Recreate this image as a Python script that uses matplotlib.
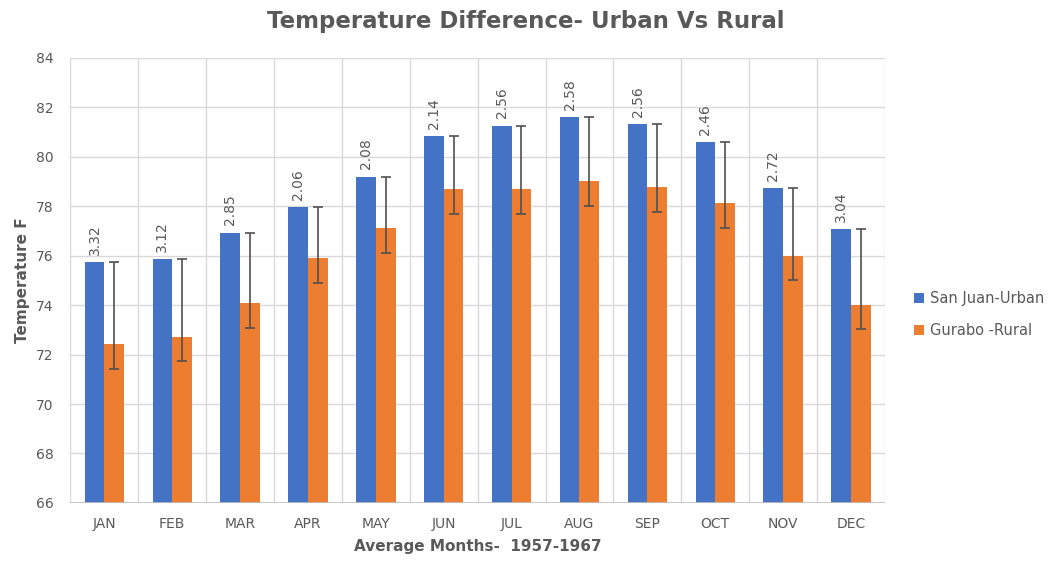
import matplotlib.pyplot as plt
import numpy as np

months = ["JAN", "FEB", "MAR", "APR", "MAY", "JUN", "JUL", "AUG", "SEP", "OCT", "NOV", "DEC"]
urban = [75.74, 75.85, 76.93, 77.97, 79.20, 80.82, 81.25, 81.60, 81.32, 80.58, 78.72, 77.06]
rural = [72.42, 72.73, 74.08, 75.91, 77.12, 78.68, 78.69, 79.02, 78.76, 78.12, 76.00, 74.02]
diff_labels = ["3.32", "3.12", "2.85", "2.06", "2.08", "2.14", "2.56", "2.58", "2.56", "2.46", "2.72", "3.04"]
err_up = [3.32, 3.12, 2.85, 2.06, 2.08, 2.14, 2.56, 2.58, 2.56, 2.46, 2.72, 3.04]
err_down = [1, 1, 1, 1, 1, 1, 1, 1, 1, 1, 1, 1]

blue = "#4472C4"
orange = "#ED7D31"
txt = "#595959"

fig = plt.figure(figsize=(10.51, 5.67), dpi=100)
ax = fig.add_axes([0.067, 0.113, 0.775, 0.785])

x = np.arange(len(months))
w = 0.29
ax.bar(x - w / 2, urban, w, color=blue, label="San Juan-Urban", zorder=3)
ax.bar(x + w / 2, rural, w, color=orange, label="Gurabo -Rural", zorder=3)
ax.errorbar(x + w / 2, rural, yerr=[err_down, err_up], fmt="none",
            ecolor="#505050", elinewidth=1.2, capsize=3.5, capthick=1.2, zorder=4)

# difference labels above the urban bars
for xi, u, lab in zip(x, urban, diff_labels):
    ax.text(xi - w / 2, u + 0.3, lab, rotation=90, ha="center", va="bottom",
            fontsize=10, color=txt)

ax.set_ylim(66, 84)
ax.set_yticks(np.arange(66, 85, 2))
ax.set_xlim(-0.5, len(months) - 0.5)
ax.set_xticks(x)
ax.set_xticklabels(months)
ax.set_xticks(np.arange(-0.5, len(months), 1), minor=True)
ax.grid(axis="y", color="#d9d9d9", linewidth=1, zorder=0)
ax.grid(axis="x", which="minor", color="#d9d9d9", linewidth=1, zorder=0)
ax.tick_params(which="both", length=0, colors=txt, labelsize=10)
ax.tick_params(axis="x", pad=10)
ax.tick_params(axis="y", pad=12)
for s in ax.spines.values():
    s.set_visible(False)
ax.axhline(66, color="#bfbfbf", linewidth=1.2, zorder=5)

fig.text(0.5, 0.962, "Temperature Difference- Urban Vs Rural", fontsize=16.5,
         fontweight="bold", color=txt, ha="center", va="center")
ax.set_xlabel("Average Months-  1957-1967", fontsize=11, fontweight="bold", color=txt, labelpad=6)
ax.set_ylabel("Temperature F", fontsize=11, fontweight="bold", color=txt, labelpad=4)

fig.legend(loc="center left", bbox_to_anchor=(0.857, 0.445), frameon=False,
           fontsize=10.5, labelcolor=txt, handlelength=0.7, handleheight=0.7,
           handletextpad=0.4, labelspacing=1.2)

fig.savefig("out.png", dpi=100)
